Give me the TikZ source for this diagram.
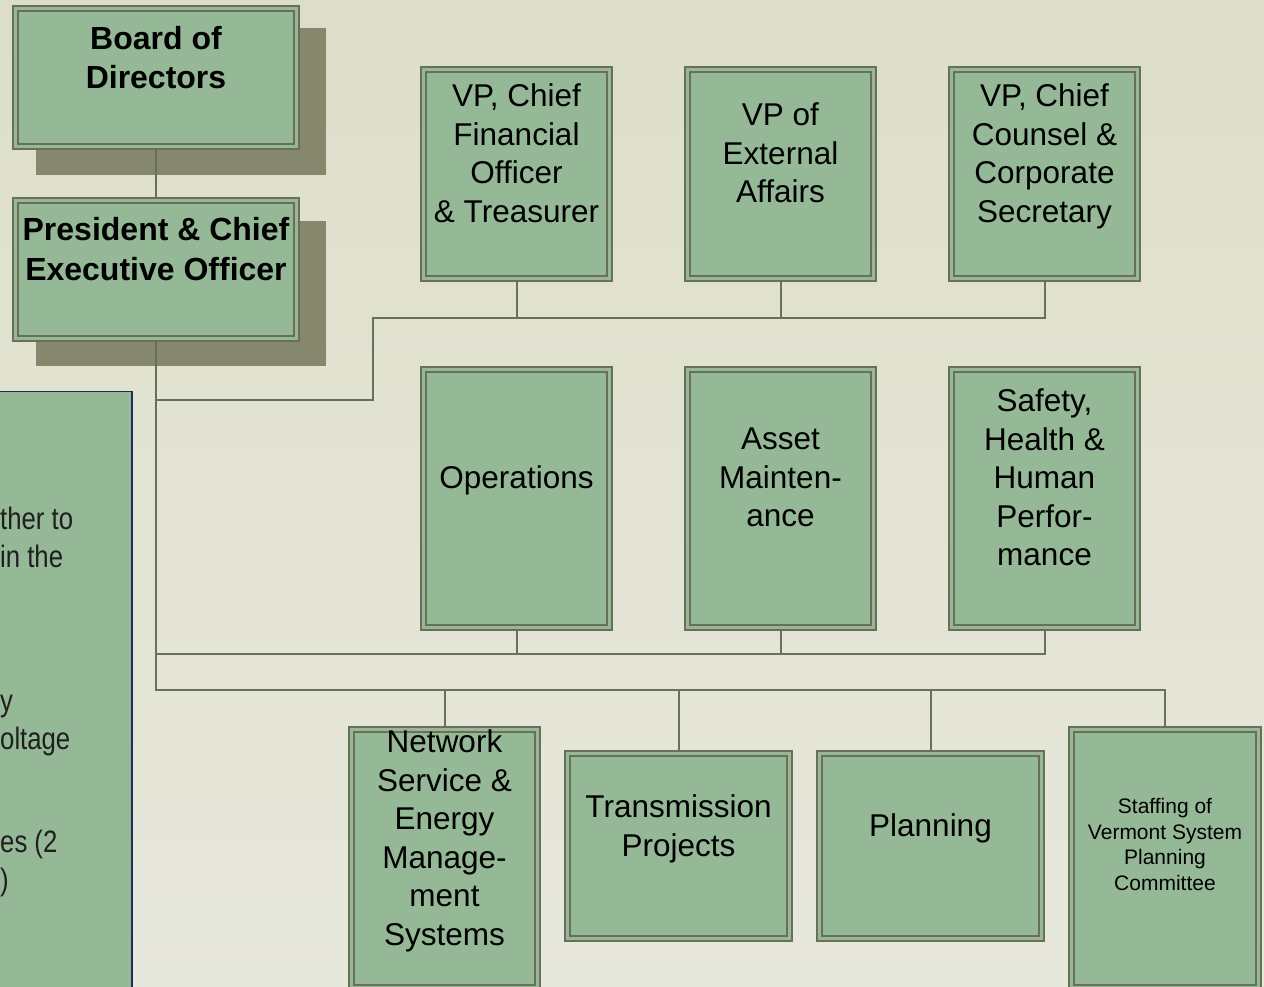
\documentclass[tikz,border=0pt]{standalone}
\usepackage{fontspec}
\setmainfont{Liberation Sans}
\newfontfamily\narrowfont[FakeStretch=0.83]{Liberation Sans}
\usetikzlibrary{positioning,backgrounds}

\definecolor{bgtop}{HTML}{DDDEC9}
\definecolor{bgbottom}{HTML}{E7E8DC}
\definecolor{boxfill}{HTML}{95B897}
\definecolor{edge}{HTML}{6B6E59}
\definecolor{shadowfill}{HTML}{86886E}
\definecolor{navyedge}{HTML}{1F2B5C}

\newcommand{\orgfont}{\fontsize{31.5}{38.5}\selectfont}
\newcommand{\headfont}{\fontsize{32}{39.5}\selectfont\bfseries}
\newcommand{\smallorgfont}{\fontsize{21}{25.6}\selectfont}

\begin{document}
\begin{tikzpicture}[x=1pt, y=-1pt,
  unitbox/.style={draw=edge, line width=2pt, double=boxfill, double distance=3pt, fill=boxfill, inner sep=0pt, outer sep=3.5pt},
  vpbox/.style={unitbox, minimum width=186pt, minimum height=209pt},
  deptbox/.style={unitbox, minimum width=186pt, minimum height=258pt},
  groupbox/.style={unitbox, minimum width=222pt, minimum height=185pt},
  topbox/.style={unitbox, minimum width=281pt, minimum height=138pt},
  boxtext/.style={align=center, inner sep=0pt, text depth=0pt, font=\orgfont},
  notetext/.style={anchor=west, align=left, inner sep=0pt, font=\narrowfont\fontsize{31}{38}\selectfont, text=black!88},
  conn/.style={draw=edge, line width=2pt}]
\useasboundingbox (0,0) rectangle (1264,987);
\begin{scope}[on background layer]
  \shade[top color=bgtop, bottom color=bgbottom] (0,0) rectangle (1264,987);
\end{scope}

% left panel, cut by the page edge
\node[draw=navyedge, line width=1.5pt, fill=boxfill, inner sep=0pt, minimum width=350pt, minimum height=700pt, anchor=north east] (notes) at (132.5,390.5) {};
\node[notetext] (notes a) at (0,537) {ther to\\in the};
\node[notetext] (notes b) at (0,726) {y\\oltage};
\node[notetext] (notes c) at (0,863) {es (2\\)};

% top of the chart
\node[topbox] (board) at (156,78) {};
\node[topbox] (pres)  at (156,269.5) {};
\node[boxtext, font=\headfont] (board text) at ([yshift=20.5pt]board.center) {Board of\\Directors};
\node[boxtext, font=\headfont] (pres text)  at ([yshift=20.5pt]pres.center) {President \& Chief\\Executive Officer};

% vice presidents
\node[vpbox] (cfo)     at (516.5,174) {};
\node[vpbox] (ext)     at (780.5,174) {};
\node[vpbox] (counsel) at (1044.5,174) {};
\node[boxtext] (cfo text)     at ([yshift=21pt]cfo.center) {VP, Chief\\Financial\\Officer\\\& Treasurer};
\node[boxtext] (ext text)     at ([yshift=21pt]ext.center) {VP of\\External\\Affairs};
\node[boxtext] (counsel text) at ([yshift=21pt]counsel.center) {VP, Chief\\Counsel \&\\Corporate\\Secretary};

% departments
\node[deptbox] (ops)    at (516.5,498.5) {};
\node[deptbox] (asset)  at (780.5,498.5) {};
\node[deptbox] (safety) at (1044.5,498.5) {};
\node[boxtext] (ops text)    at ([yshift=21pt]ops.center) {Operations};
\node[boxtext] (asset text)  at ([yshift=21pt]asset.center) {Asset\\Mainten-\\ance};
\node[boxtext] (safety text) at ([yshift=21pt]safety.center) {Safety,\\Health \&\\Human\\Perfor-\\mance};

% bottom row
\node[deptbox]  (nsems) at (444.5,858.5) {};
\node[groupbox] (trans) at (678.5,846) {};
\node[groupbox] (plan)  at (930.5,846) {};
\node[deptbox, minimum width=187pt] (vsp) at (1165,858.5) {};
\node[boxtext] (nsems text) at ([yshift=21pt]nsems.center) {Network\\Service \&\\Energy\\Manage-\\ment\\Systems};
\node[boxtext] (trans text) at ([yshift=20.5pt]trans.center) {Transmission\\Projects};
\node[boxtext] (plan text)  at ([yshift=20.5pt]plan.center) {Planning};
\node[boxtext, font=\smallorgfont] (vsp text) at ([yshift=14pt]vsp.center) {Staffing of\\Vermont System\\Planning\\Committee};

\begin{scope}[on background layer]
  \fill[shadowfill] ([shift={(24,23)}]board.north west) rectangle ([shift={(26,25)}]board.south east);
  \fill[shadowfill] ([shift={(24,24)}]pres.north west) rectangle ([shift={(26,24)}]pres.south east);
\end{scope}

\coordinate (vp jog) at (373,400);
\coordinate (vp bus) at (373,318);
\coordinate (dept bus) at (0,654);
\coordinate (low bus) at (1165,690);

\draw[conn] (board) -- (pres);
\draw[conn] (pres.south) |- (vp jog) -- (vp bus) -| (counsel.south);
\draw[conn] (cfo.south) -- (cfo.south |- vp bus);
\draw[conn] (ext.south) -- (ext.south |- vp bus);
\draw[conn] (pres.south |- dept bus) -| (safety.south);
\draw[conn] (ops.south) -- (ops.south |- dept bus);
\draw[conn] (asset.south) -- (asset.south |- dept bus);
\draw[conn] (pres.south) |- (low bus) -- (vsp.north);
\draw[conn] (nsems.north) -- (nsems.north |- low bus);
\draw[conn] (trans.north) -- (trans.north |- low bus);
\draw[conn] (plan.north) -- (plan.north |- low bus);
\end{tikzpicture}
\end{document}
